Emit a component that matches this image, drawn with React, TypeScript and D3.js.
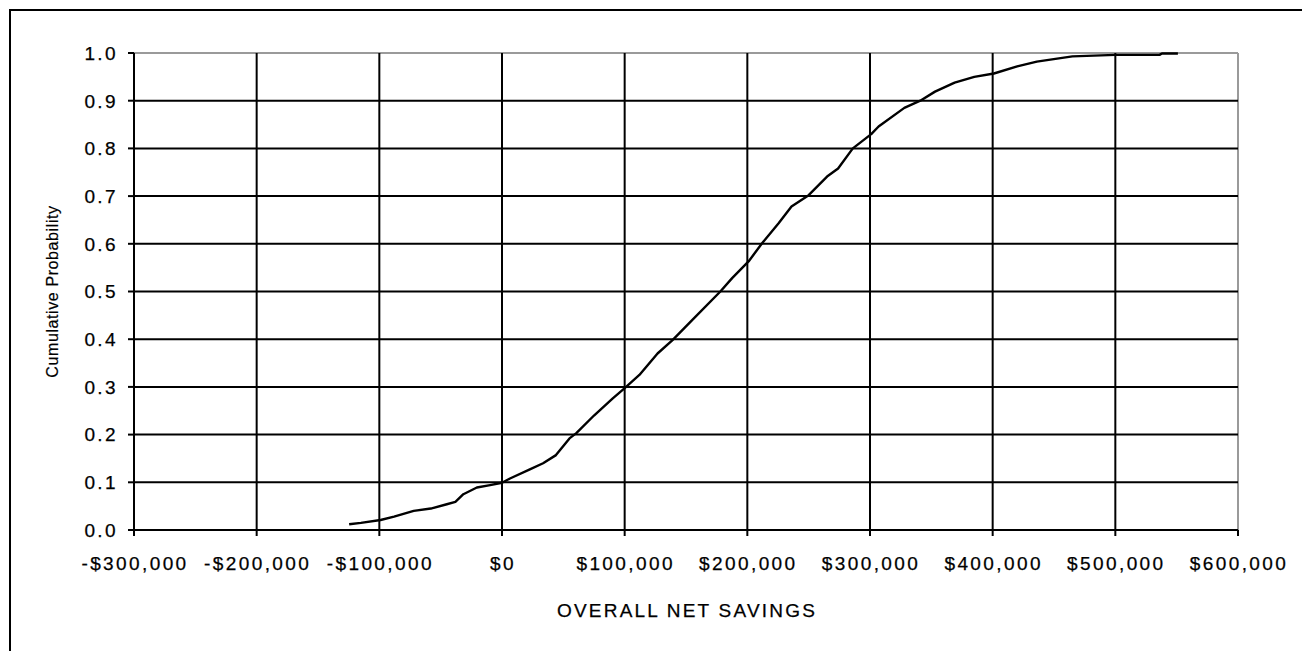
import React from "react";
import * as d3 from "d3";

// Overall net savings ($) and cumulative probability
const savings = [
  -124600, -115000, -99000, -88000, -72000, -58000, -45000, -38000, -31500, -20500,
  -9700, 0, 6500, 22700, 33500, 44000, 55000, 60600, 75000, 90300,
  99800, 112000, 126800, 139000, 155000, 178000, 187600, 201000, 212000, 225500,
  236000, 250000, 265000, 274000, 286000, 301000, 307000, 328000, 341000, 353000,
  369000, 385000, 401000, 420000, 436000, 465000, 500000, 536000, 538000, 551000,
];
const probability = [
  0.012, 0.015, 0.021, 0.028, 0.04, 0.045, 0.054, 0.059, 0.075, 0.089,
  0.094, 0.099, 0.108, 0.127, 0.14, 0.157, 0.192, 0.203, 0.24, 0.276,
  0.297, 0.325, 0.37, 0.398, 0.44, 0.5, 0.528, 0.563, 0.601, 0.643,
  0.678, 0.702, 0.741, 0.758, 0.8, 0.83, 0.846, 0.885, 0.9, 0.919,
  0.938, 0.95, 0.957, 0.972, 0.982, 0.993, 0.996, 0.996, 0.999, 0.999,
];

const xTickValues = [-300000, -200000, -100000, 0, 100000, 200000, 300000, 400000, 500000, 600000];
const xTickLabels = [
  "-$300,000", "-$200,000", "-$100,000", "$0", "$100,000",
  "$200,000", "$300,000", "$400,000", "$500,000", "$600,000",
];
const yTickValues = [0, 0.1, 0.2, 0.3, 0.4, 0.5, 0.6, 0.7, 0.8, 0.9, 1.0];
const yTickLabels = ["0.0", "0.1", "0.2", "0.3", "0.4", "0.5", "0.6", "0.7", "0.8", "0.9", "1.0"];

const xTitle = "OVERALL NET SAVINGS";
const yTitle = "Cumulative Probability";

export default function App() {
  const W = 1302;
  const H = 651;
  const left = 134;
  const right = 1238;
  const top = 53;
  const bottom = 530;

  const x = d3.scaleLinear().domain([-300000, 600000]).range([left, right]);
  const y = d3.scaleLinear().domain([0, 1]).range([bottom, top]);

  const pts: [number, number][] = savings.map((s, i) => [s, probability[i]]);
  const line = d3
    .line<[number, number]>()
    .x((d) => x(d[0]))
    .y((d) => y(d[1]))
    .curve(d3.curveLinear);

  const font = "Arial, 'Liberation Sans', sans-serif";

  return (
    <svg
      width={W}
      height={H}
      style={{ position: "absolute", left: 0, top: 0, display: "block", background: "#fff" }}
    >
      <rect x={0} y={0} width={W} height={H} fill="#fff" />
      {/* outer border */}
      <rect x={10} y={10} width={W + 20} height={H + 20} fill="none" stroke="#000" strokeWidth={2} />

      {/* plot frame (top/right grey) */}
      <line x1={left} x2={right} y1={top} y2={top} stroke="#9a9a9a" strokeWidth={2} />
      <line x1={right} x2={right} y1={top} y2={bottom} stroke="#9a9a9a" strokeWidth={2} />

      {/* gridlines */}
      {yTickValues.slice(1, -1).map((v) => (
        <line key={"gy" + v} x1={left} x2={right} y1={y(v)} y2={y(v)} stroke="#000" strokeWidth={2} />
      ))}
      {xTickValues.slice(1, -1).map((v) => (
        <line key={"gx" + v} x1={x(v)} x2={x(v)} y1={top} y2={bottom} stroke="#000" strokeWidth={2} />
      ))}

      {/* axes */}
      <line x1={left} x2={left} y1={top} y2={bottom} stroke="#000" strokeWidth={2} />
      <line x1={left} x2={right} y1={bottom} y2={bottom} stroke="#000" strokeWidth={2} />

      {/* y ticks */}
      {yTickValues.map((v, i) => (
        <g key={"yt" + v}>
          <line x1={left - 6} x2={left} y1={y(v)} y2={y(v)} stroke="#000" strokeWidth={2} />
          <text
            x={118}
            y={y(v)}
            dy="0.36em"
            textAnchor="end"
            fontFamily={font}
            fontSize={19}
            letterSpacing={2.4}
            fill="#000"
            stroke="#000"
            strokeWidth={0.25}
          >
            {yTickLabels[i]}
          </text>
        </g>
      ))}

      {/* x ticks */}
      {xTickValues.map((v, i) => (
        <g key={"xt" + v}>
          <line x1={x(v)} x2={x(v)} y1={bottom} y2={bottom + 6} stroke="#000" strokeWidth={2} />
          <text
            x={x(v) + 1}
            y={570}
            textAnchor="middle"
            fontFamily={font}
            fontSize={19}
            letterSpacing={2.4}
            fill="#000"
            stroke="#000"
            strokeWidth={0.25}
          >
            {xTickLabels[i]}
          </text>
        </g>
      ))}

      {/* curve */}
      <path d={line(pts) || ""} fill="none" stroke="#000" strokeWidth={2.4} strokeLinejoin="round" />

      {/* titles */}
      <text
        x={(left + right) / 2 + 1}
        y={617}
        textAnchor="middle"
        fontFamily={font}
        fontSize={19}
        letterSpacing={2.2}
        fill="#000"
        stroke="#000"
        strokeWidth={0.25}
      >
        {xTitle}
      </text>
      <text
        transform={`translate(58, ${(top + bottom) / 2}) rotate(-90)`}
        textAnchor="middle"
        fontFamily={font}
        fontSize={16}
        letterSpacing={0.6}
        fill="#000"
        stroke="#000"
        strokeWidth={0.2}
      >
        {yTitle}
      </text>
    </svg>
  );
}
